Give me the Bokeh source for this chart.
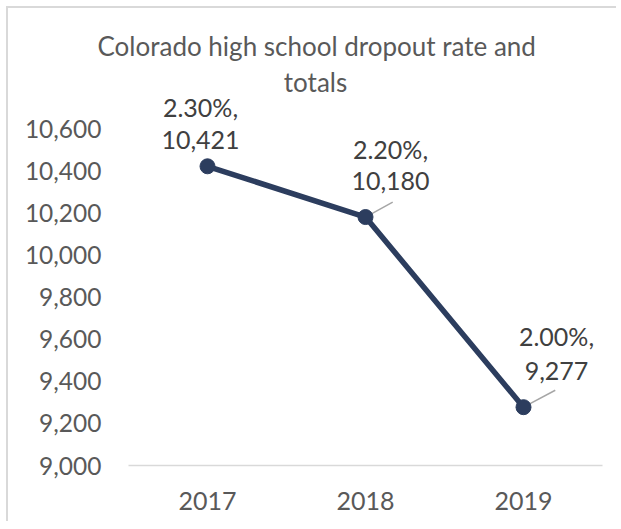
from bokeh.plotting import figure
from bokeh.models import Range1d, FactorRange, FixedTicker, Label, Title, ColumnDataSource, NumeralTickFormatter, LabelSet
from bokeh.core.properties import value
from bokeh.embed import file_html
from bokeh.resources import INLINE

years = ["2017", "2018", "2019"]
totals = [10421, 10180, 9277]
rates = ["2.30%", "2.20%", "2.00%"]
y_ticks = [9000, 9200, 9400, 9600, 9800, 10000, 10200, 10400, 10600]
title_lines = ["Colorado high school dropout rate and", "totals"]

FONT = "Lato"
GRAY = "#595959"
LINE = "#2C3D5E"

# the frame reaches up to the title so the top data labels are not clipped
p = figure(width=610, height=515, x_range=FactorRange(*years, range_padding=0),
           y_range=Range1d(9000, 10895), output_backend="svg", toolbar_location=None,
           min_border_left=120, min_border_right=16, min_border_top=58, min_border_bottom=58)
p.outline_line_color = None
p.xgrid.visible = False
p.ygrid.visible = False
p.styles = {"border-left": "2px solid #d9d9d9", "border-top": "2px solid #d9d9d9",
            "margin-left": "6px", "margin-top": "6px"}

p.add_layout(Title(text=title_lines[0], align="left", offset=-31, text_font=FONT,
                   text_font_size="26px", text_color=GRAY, text_font_style="normal", standoff=10), "above")
p.add_layout(Label(x=187, y=384, x_units="screen", y_units="screen", text=title_lines[1],
                   text_align="center", text_baseline="middle", text_font=FONT,
                   text_font_size="26px", text_color=GRAY))

p.yaxis.ticker = FixedTicker(ticks=y_ticks)
p.yaxis.formatter = NumeralTickFormatter(format="0,0")
p.yaxis.axis_line_color = None
p.yaxis.major_tick_line_color = None
p.yaxis.major_tick_out = 0
p.yaxis.minor_tick_line_color = None
p.yaxis.major_label_standoff = 27
p.yaxis.major_label_text_font = FONT
p.yaxis.major_label_text_font_size = "24.5px"
p.yaxis.major_label_text_color = GRAY

p.xaxis.axis_line_color = "#d9d9d9"
p.xaxis.axis_line_width = 1.5
p.xaxis.major_tick_line_color = None
p.xaxis.major_tick_out = 0
p.xaxis.minor_tick_line_color = None
p.xaxis.major_label_standoff = 26
p.xaxis.major_label_text_font = FONT
p.xaxis.major_label_text_font_size = "25px"
p.xaxis.major_label_text_color = GRAY

src = ColumnDataSource(dict(
    x=years, y=totals,
    rate=[r + "," for r in rates],
    total=[f"{t:,}" for t in totals],
    dx=[-7, 25, 33],
    dy1=[59, 68, 71],
    dy2=[26, 36, 36],
    lead_len=[1, 31, 36],
    lead_ang=[0, 0.50, 0.49],
    lead_alpha=[0, 1, 1],
))

p.ray(x="x", y="y", length="lead_len", angle="lead_ang", length_units="screen",
      line_color="#a6a6a6", line_width=1.5, line_alpha="lead_alpha", source=src)
p.line(x="x", y="y", line_color=LINE, line_width=5.5, source=src)
p.scatter(x="x", y="y", size=15, fill_color=LINE, line_color=LINE, source=src)

for col, dy in (("rate", "dy1"), ("total", "dy2")):
    p.add_layout(LabelSet(x="x", y="y", text=col, x_offset="dx", y_offset=dy, source=src,
                          text_align="center", text_baseline="middle", text_font=value(FONT),
                          text_font_size=value("25px"), text_color=value("#404040")))

open("out.html", "w").write(file_html(p, INLINE))
